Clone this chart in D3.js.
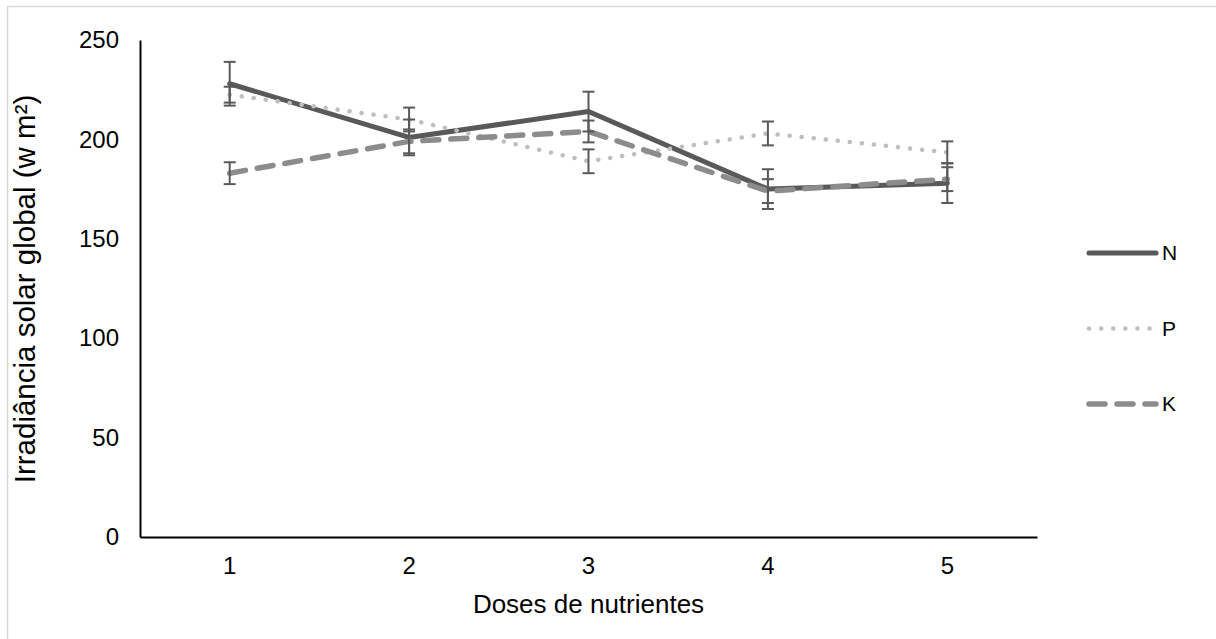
<!DOCTYPE html>
<html>
<head>
<meta charset="utf-8">
<script src="https://cdn.jsdelivr.net/npm/d3@7"></script>
<style>
  body { margin: 0; background: #fff; }
  text { font-family: "Liberation Sans", Arial, sans-serif; fill: #000; }
</style>
</head>
<body>
<div id="chart"></div>
<script>
// data
var doses = ["1", "2", "3", "4", "5"];
var yTicks = [0, 50, 100, 150, 200, 250];
var nValues = [228, 201, 214, 175, 178];
var nErrors = [11, 9, 10, 10, 10];
var pValues = [222.5, 210, 189, 203, 193.5];
var pErrors = [4, 6, 6, 6, 5.5];
var kValues = [183, 199, 204, 174, 180];
var kErrors = [5.5, 6, 5.5, 6, 6];
var seriesNames = ["N", "P", "K"];

var W = 1216, H = 639;
var margin = { top: 40, left: 140, right: 1216 - 1037, bottom: 639 - 537 };
var w = W - margin.left - margin.right,
    h = H - margin.top - margin.bottom;

var series = [
  { name: seriesNames[0], values: nValues, errors: nErrors, color: "#595959", width: 5, dash: null },
  { name: seriesNames[1], values: pValues, errors: pErrors, color: "#bfbfbf", width: 4.5, dash: "0.1,12" },
  { name: seriesNames[2], values: kValues, errors: kErrors, color: "#8c8c8c", width: 5.5, dash: "16,12" }
];

var svg = d3.select("#chart").append("svg")
  .attr("width", W).attr("height", H);

// outer frame
svg.append("rect")
  .attr("x", 7.5).attr("y", 6.5)
  .attr("width", W + 10).attr("height", H + 10)
  .attr("fill", "none").attr("stroke", "#d9d9d9").attr("stroke-width", 1.5);

var g = svg.append("g").attr("transform", "translate(" + margin.left + "," + margin.top + ")");

var x = d3.scaleBand().domain(doses).range([0, w]);
var y = d3.scaleLinear().domain([0, 250]).range([h, 0]);

var xAxis = d3.axisBottom(x).tickSize(0).tickPadding(20);
var yAxis = d3.axisLeft(y).tickValues(yTicks).tickSize(0).tickPadding(21);

var gx = g.append("g").attr("transform", "translate(0," + h + ")").call(xAxis);
var gy = g.append("g").call(yAxis);
[gx, gy].forEach(function (a) {
  a.select(".domain").attr("stroke", "#000").attr("stroke-width", 2);
  a.selectAll("text").style("font-size", "24px").attr("fill", "#000");
});

var cx = function (i) { return x(doses[i]) + x.bandwidth() / 2; };

var line = d3.line()
  .x(function (d, i) { return cx(i); })
  .y(function (d) { return y(d); });

var lines = g.append("g");
series.forEach(function (s) {
  lines.append("path")
    .datum(s.values)
    .attr("d", line)
    .attr("fill", "none")
    .attr("stroke", s.color)
    .attr("stroke-width", s.width)
    .attr("stroke-linecap", "round")
    .attr("stroke-linejoin", "round")
    .attr("stroke-dasharray", s.dash);
});

// error bars
var errs = g.append("g");
series.forEach(function (s) {
  s.values.forEach(function (v, i) {
    var hi = y(v + s.errors[i]), lo = y(v - s.errors[i]), xc = cx(i);
    errs.append("line").attr("x1", xc).attr("x2", xc).attr("y1", hi).attr("y2", lo)
      .attr("stroke", "#595959").attr("stroke-width", 2);
    [hi, lo].forEach(function (yy) {
      errs.append("line").attr("x1", xc - 6).attr("x2", xc + 6).attr("y1", yy).attr("y2", yy)
        .attr("stroke", "#595959").attr("stroke-width", 2);
    });
  });
});

// legend
var legend = svg.append("g");
series.forEach(function (s, i) {
  var ly = 253 + i * 75.5;
  legend.append("line")
    .attr("x1", 1089).attr("x2", 1156).attr("y1", ly).attr("y2", ly)
    .attr("stroke", s.color).attr("stroke-width", s.width)
    .attr("stroke-linecap", "round")
    .attr("stroke-dasharray", s.dash);
  legend.append("text")
    .attr("x", 1162).attr("y", ly).attr("dy", "0.35em")
    .style("font-size", "21px").attr("fill", "#595959")
    .text(s.name);
});

// axis titles
svg.append("text")
  .attr("x", margin.left + w / 2).attr("y", 604).attr("dy", "0.35em")
  .attr("text-anchor", "middle").style("font-size", "26px")
  .text("Doses de nutrientes");

svg.append("text")
  .attr("transform", "translate(25," + 289 + ") rotate(-90)")
  .attr("dy", "0.35em")
  .attr("text-anchor", "middle").style("font-size", "29.5px")
  .text("Irradiância solar global (w m²)");
</script>
</body>
</html>
